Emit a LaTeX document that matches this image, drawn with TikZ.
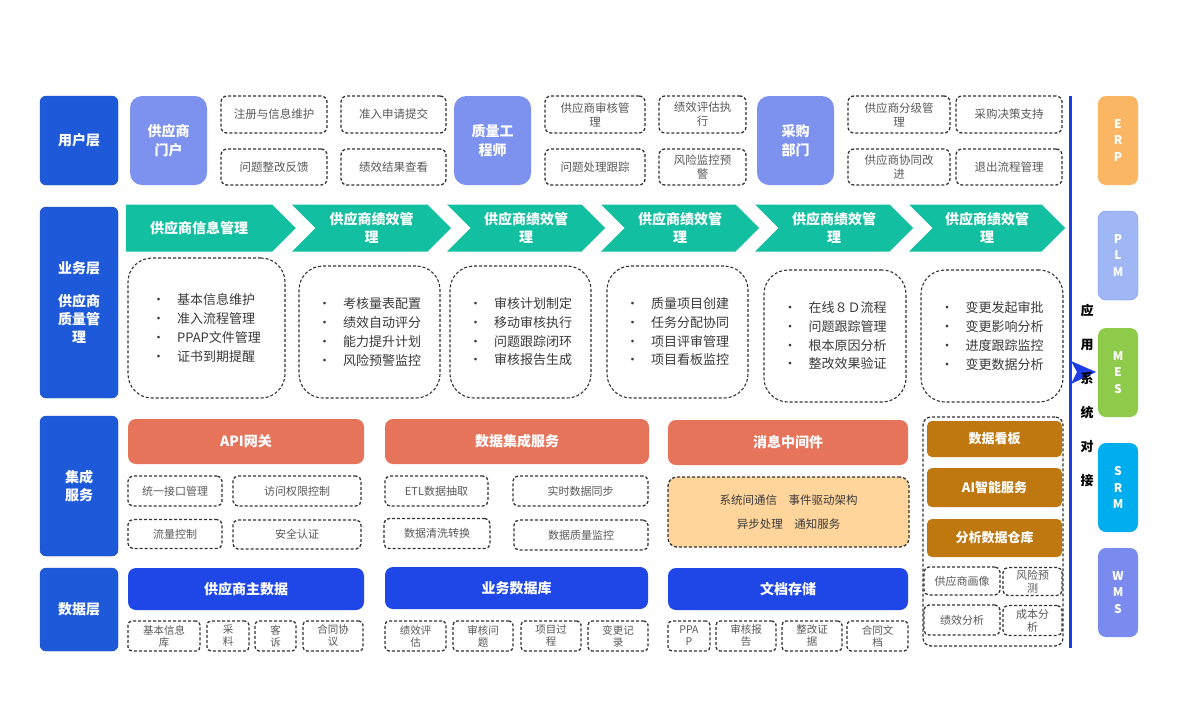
\documentclass[tikz,border=0pt]{standalone}
\usepackage{fontspec}
\setmainfont{Noto Sans CJK SC}
\usetikzlibrary{positioning,shapes.symbols}
\definecolor{layerblue}{HTML}{1E59D9}
\definecolor{rolepurple}{HTML}{7D91EE}
\definecolor{stepteal}{HTML}{12BFA0}
\definecolor{coral}{HTML}{E5745B}
\definecolor{peach}{HTML}{FFD59C}
\definecolor{amber}{HTML}{BF7710}
\definecolor{storeblue}{HTML}{1F47E8}
\definecolor{busblue}{HTML}{1E3CE6}
\definecolor{dashgray}{HTML}{333333}
\definecolor{textgray}{HTML}{5A5A5A}
\definecolor{listgray}{HTML}{3A3A3A}
\definecolor{erporange}{HTML}{FBB663}
\definecolor{plmblue}{HTML}{9FB7F5}
\definecolor{mesgreen}{HTML}{8FCB4A}
\definecolor{srmcyan}{HTML}{00AEEF}
\definecolor{wmsblue}{HTML}{7A8BEF}

\begin{document}
\begin{tikzpicture}[x=1pt, y=-1pt,
	layernode/.style={fill=layerblue, draw=layerblue!85!black, rounded corners=6pt, text=white, font=\bfseries\fontsize{14}{18}\selectfont, align=center, minimum width=78pt, inner sep=0pt},
	rolenode/.style={fill=rolepurple, rounded corners=12pt, text=white, font=\bfseries\fontsize{14}{19}\selectfont, align=center, minimum width=77pt, minimum height=89pt, inner sep=0pt},
	tasknode/.style={draw=dashgray, dash pattern=on 3pt off 2pt, line width=1.3pt, rounded corners=6pt, text=textgray, font=\fontsize{11.5}{14}\selectfont, align=center, inner sep=0pt},
	smallnode/.style={tasknode, font=\fontsize{11}{13}\selectfont, rounded corners=5pt},
	tinynode/.style={tasknode, font=\fontsize{10.5}{12}\selectfont, rounded corners=4pt, minimum height=30pt},
	stepnode/.style={signal, signal to=east, fill=stepteal, text=white, font=\bfseries\fontsize{14}{18}\selectfont, align=center, minimum height=47pt, inner sep=0pt},
	listnode/.style={draw=dashgray, dash pattern=on 3pt off 2pt, line width=1.1pt, rounded corners=24pt, text=listgray, font=\fontsize{13}{18.7}\selectfont, align=left, inner sep=0pt},
	servicenode/.style={fill=coral, rounded corners=8pt, text=white, font=\bfseries\fontsize{14}{16}\selectfont, minimum height=45pt, inner sep=0pt},
	storenode/.style={fill=storeblue, rounded corners=8pt, text=white, font=\bfseries\fontsize{14}{16}\selectfont, minimum height=42pt, inner sep=0pt},
	analyticnode/.style={fill=amber, rounded corners=5pt, text=white, font=\bfseries\fontsize{13}{16}\selectfont, minimum width=135pt, inner sep=0pt},
	sysnode/.style={rounded corners=8pt, text=white, font=\bfseries\fontsize{12}{16.5}\selectfont, align=center, minimum width=40pt, minimum height=89pt, inner sep=0pt}
	]
	\useasboundingbox[fill=white] (0,0) rectangle (1182,721);
	%Layers
	\node[layernode, minimum height=89pt] (UserLayer) at (79,140.5) {用户层};
	\node[layernode, minimum height=191pt] (BusinessLayer) at (79,302.5) {业务层\\[15pt]供应商\\质量管\\理};
	\node[layernode, minimum height=140pt] (IntegrationLayer) at (79,486) {集成\\服务};
	\node[layernode, minimum height=83pt] (DataLayer) at (79,609.5) {数据层};
	%Roles
	\node[rolenode] (SupplierPortal) at (168.5,140.5) {供应商\\门户};
	\node[rolenode] (QualityEngineer) at (492.5,140.5) {质量工\\程师};
	\node[rolenode] (Purchasing) at (795.5,140.5) {采购\\部门};
	%Role tasks
	\node[tasknode, minimum width=106pt, minimum height=37pt] (Register) at (274,114.5) {注册与信息维护};
	\node[tasknode, minimum width=105pt, minimum height=37pt] (Admission) at (393.5,114.5) {准入申请提交};
	\node[tasknode, minimum width=106pt, minimum height=36pt] (Rectify) at (274,167) {问题整改反馈};
	\node[tasknode, minimum width=105pt, minimum height=36pt] (PerfView) at (393.5,167) {绩效结果查看};
	\node[tasknode, minimum width=100pt, minimum height=37pt] (AuditMgmt) at (595,114.5) {供应商审核管\\理};
	\node[tasknode, minimum width=87pt, minimum height=37pt] (PerfEval) at (702.5,114.5) {绩效评估执\\行};
	\node[tasknode, minimum width=100pt, minimum height=36pt] (IssueTrack) at (595,167) {问题处理跟踪};
	\node[tasknode, minimum width=87pt, minimum height=36pt] (RiskWarn) at (702.5,167) {风险监控预\\警};
	\node[tasknode, minimum width=102pt, minimum height=37pt] (GradeMgmt) at (899,114.5) {供应商分级管\\理};
	\node[tasknode, minimum width=106pt, minimum height=37pt] (Decision) at (1009,114.5) {采购决策支持};
	\node[tasknode, minimum width=102pt, minimum height=36pt] (CoImprove) at (899,167) {供应商协同改\\进};
	\node[tasknode, minimum width=106pt, minimum height=36pt] (ExitMgmt) at (1009,167) {退出流程管理};
	%Process steps
	\node[stepnode, signal from=nowhere, minimum width=170pt] (StepInfo) at (199,228) {供应商信息管理};
	\node[stepnode, signal from=west, minimum width=159pt] (StepPerf) at (371.5,228) {供应商绩效管\\理};
	\node[stepnode, signal from=west, minimum width=158pt] (StepAudit) at (526,228) {供应商绩效管\\理};
	\node[stepnode, signal from=west, minimum width=158pt] (StepProject) at (680,228) {供应商绩效管\\理};
	\node[stepnode, signal from=west, minimum width=158pt] (StepIssue) at (834,228) {供应商绩效管\\理};
	\node[stepnode, signal from=west, minimum width=156pt] (StepChange) at (987,228) {供应商绩效管\\理};
	%Step lists
	\node[listnode, minimum width=157pt, minimum height=140pt] (InfoList) at (206.5,328) {\textbullet\hspace{12pt}基本信息维护\\\textbullet\hspace{12pt}准入流程管理\\\textbullet\hspace{12pt}PPAP文件管理\\\textbullet\hspace{12pt}证书到期提醒};
	\node[listnode, minimum width=141pt, minimum height=132pt] (PerfList) at (369.5,332) {\textbullet\hspace{12pt}考核量表配置\\\textbullet\hspace{12pt}绩效自动评分\\\textbullet\hspace{12pt}能力提升计划\\\textbullet\hspace{12pt}风险预警监控};
	\node[listnode, minimum width=141pt, minimum height=132pt] (AuditList) at (520.5,332) {\textbullet\hspace{12pt}审核计划制定\\\textbullet\hspace{12pt}移动审核执行\\\textbullet\hspace{12pt}问题跟踪闭环\\\textbullet\hspace{12pt}审核报告生成};
	\node[listnode, minimum width=141pt, minimum height=132pt] (ProjectList) at (677.5,332) {\textbullet\hspace{12pt}质量项目创建\\\textbullet\hspace{12pt}任务分配协同\\\textbullet\hspace{12pt}项目评审管理\\\textbullet\hspace{12pt}项目看板监控};
	\node[listnode, minimum width=142pt, minimum height=132pt] (IssueList) at (835,336) {\textbullet\hspace{12pt}在线８Ｄ流程\\\textbullet\hspace{12pt}问题跟踪管理\\\textbullet\hspace{12pt}根本原因分析\\\textbullet\hspace{12pt}整改效果验证};
	\node[listnode, minimum width=142pt, minimum height=132pt] (ChangeList) at (992,336) {\textbullet\hspace{12pt}变更发起审批\\\textbullet\hspace{12pt}变更影响分析\\\textbullet\hspace{12pt}进度跟踪监控\\\textbullet\hspace{12pt}变更数据分析};
	%Integration services
	\node[servicenode, minimum width=236pt] (ApiGateway) at (246,441.5) {API网关};
	\node[servicenode, minimum width=264pt] (DataIntegration) at (517,441.5) {数据集成服务};
	\node[servicenode, minimum width=240pt] (MessageMiddleware) at (788,442.5) {消息中间件};
	\node[smallnode, minimum width=94pt, minimum height=30pt] (UnifiedApi) at (175,491) {统一接口管理};
	\node[smallnode, minimum width=128pt, minimum height=30pt] (AccessCtrl) at (297,491) {访问权限控制};
	\node[smallnode, minimum width=94pt, minimum height=29pt] (TrafficCtrl) at (175,534) {流量控制};
	\node[smallnode, minimum width=128pt, minimum height=29pt] (SecurityAuth) at (297,534.5) {安全认证};
	\node[smallnode, minimum width=103pt, minimum height=30pt] (EtlExtract) at (436.5,491) {ETL数据抽取};
	\node[smallnode, minimum width=135pt, minimum height=30pt] (RealtimeSync) at (580.5,491) {实时数据同步};
	\node[smallnode, minimum width=106pt, minimum height=30pt] (DataCleanse) at (437,533.5) {数据清洗转换};
	\node[smallnode, minimum width=134pt, minimum height=30pt] (DataQuality) at (581,535) {数据质量监控};
	\node[tasknode, fill=peach, text=listgray, minimum width=241pt, minimum height=70pt, font=\fontsize{11.5}{24}\selectfont, rounded corners=9pt] (MessageDetail) at (788.5,512) {系统间通信\quad 事件驱动架构\\异步处理\quad 通知服务};
	%Analytics
	\node[smallnode, minimum width=140pt, minimum height=229pt, rounded corners=8pt] (AnalyticsGroup) at (993,531.5) {};
	\node[analyticnode, minimum height=36pt] (Dashboard) at (994.5,439) {数据看板};
	\node[analyticnode, minimum height=39pt] (AiService) at (994.5,487.5) {AI智能服务};
	\node[analyticnode, minimum height=38pt] (Warehouse) at (994.5,538) {分析数据仓库};
	\node[smallnode, minimum width=76pt, minimum height=28pt] (SupplierProfile) at (962,581) {供应商画像};
	\node[smallnode, minimum width=59pt, minimum height=28pt] (RiskForecast) at (1032.5,581.5) {风险预\\测};
	\node[smallnode, minimum width=76pt, minimum height=30pt] (PerfAnalysis) at (962,620) {绩效分析};
	\node[smallnode, minimum width=59pt, minimum height=30pt] (CostAnalysis) at (1032.5,620.5) {成本分\\析};
	%Data stores
	\node[storenode, minimum width=236pt] (SupplierMaster) at (246,589) {供应商主数据};
	\node[storenode, minimum width=263pt] (BusinessDb) at (516.5,588) {业务数据库};
	\node[storenode, minimum width=240pt] (DocStore) at (788,589) {文档存储};
	\node[tinynode, minimum width=72pt] (BasicInfo) at (164,636) {基本信息\\库};
	\node[tinynode, minimum width=42pt] (Material) at (228,636) {采\\料};
	\node[tinynode, minimum width=41pt] (Complaint) at (275.5,636) {客\\诉};
	\node[tinynode, minimum width=60pt] (Contract) at (333,636) {合同协\\议};
	\node[tinynode, minimum width=61pt] (PerfRecord) at (415.5,636) {绩效评\\估};
	\node[tinynode, minimum width=60pt] (AuditIssue) at (483,636) {审核问\\题};
	\node[tinynode, minimum width=60pt] (ProjectProc) at (551,636) {项目过\\程};
	\node[tinynode, minimum width=60pt] (ChangeLog) at (618,636) {变更记\\录};
	\node[tinynode, minimum width=42pt] (PpapDoc) at (689,636) {PPA\\P};
	\node[tinynode, minimum width=60pt] (AuditReport) at (746,636) {审核报\\告};
	\node[tinynode, minimum width=60pt] (Evidence) at (812,636) {整改证\\据};
	\node[tinynode, minimum width=61pt] (ContractDoc) at (877.5,636) {合同文\\档};
	%External systems
	\node[sysnode, fill=erporange] (ERP) at (1118,140.5) {E\\R\\P};
	\node[sysnode, fill=plmblue, draw=rolepurple] (PLM) at (1118,255.5) {P\\L\\M};
	\node[sysnode, fill=mesgreen] (MES) at (1118,372.5) {M\\E\\S};
	\node[sysnode, fill=srmcyan] (SRM) at (1118,487.5) {S\\R\\M};
	\node[sysnode, fill=wmsblue] (WMS) at (1118,592.5) {W\\M\\S};
	%Bus
	\coordinate (BusTop) at (1070,96);
	\coordinate (BusBottom) at (1070,648);
	\coordinate (BusArrow) at (1070,372);
	\draw[line width=3pt, busblue] (BusTop) -- (BusBottom);
	\fill[busblue] (BusArrow) ++(1,-11) -- ++(25,11) -- ++(-25,12) -- ++(6,-12) -- cycle;
	\node[font=\bfseries\fontsize{13}{34}\selectfont, align=center, inner sep=0pt] (BusLabel) at (1087,395.5) {应\\用\\系\\统\\对\\接};
\end{tikzpicture}
\end{document}
